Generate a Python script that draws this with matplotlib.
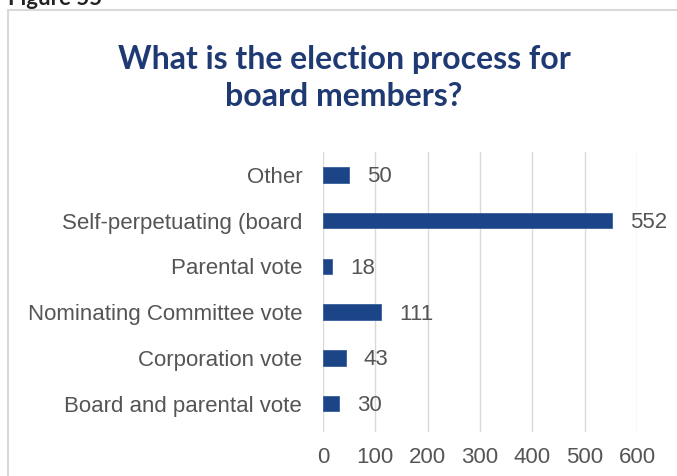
import matplotlib.pyplot as plt
from matplotlib.patches import Rectangle

categories = ["Other", "Self-perpetuating (board", "Parental vote",
              "Nominating Committee vote", "Corporation vote",
              "Board and parental vote"]
counts = [50, 552, 18, 111, 43, 30]
xticks = [0, 100, 200, 300, 400, 500, 600]

W, H = 677, 476
fig = plt.figure(figsize=(W / 100, H / 100), dpi=100)

# box around the chart
fig.patches.append(Rectangle((8 / W, -0.1), 1.2, 1.1 - 10 / H,
                             transform=fig.transFigure, fill=False,
                             edgecolor="#d9d9d9", linewidth=1.5))
fig.text(8 / W, 1 - 5 / H, "Figure 55", fontsize=16, fontweight="bold",
         color="#222222", family="Lato", va="baseline", ha="left")

fig.text(344 / W, 1 - 78 / H, "What is the election process for\nboard members?",
         ha="center", va="center", fontsize=23, fontweight="bold",
         family="Lato", color="#1f3a73", linespacing=1.3)

ax = fig.add_axes([323 / W, 44 / H, (637 - 323) / W, (432 - 152) / H])
y = list(range(len(categories)))
ax.barh(y, counts, height=0.34, color="#1c4587", edgecolor="#3a5f9c", linewidth=0.6, zorder=3)
for yi, v in zip(y, counts):
    ax.annotate(str(v), (v, yi), xytext=(13, -1.5), textcoords="offset points",
                va="center", ha="left", fontsize=16, color="#555555",
                family="Liberation Sans", annotation_clip=False, zorder=4)

ax.set_xlim(0, 600)
ax.set_ylim(5.62, -0.5)
ax.set_yticks(y)
ax.set_yticklabels(categories)
ax.set_xticks(xticks)
ax.grid(axis="x", color="#d9d9d9", linewidth=1, zorder=0)
for s in ax.spines.values():
    s.set_visible(False)
ax.tick_params(length=0, labelsize=16, colors="#555555")
ax.tick_params(axis="y", pad=15)
ax.tick_params(axis="x", pad=11)
for lab in ax.get_xticklabels() + ax.get_yticklabels():
    lab.set_family("Liberation Sans")

fig.savefig("out.png", dpi=100)
